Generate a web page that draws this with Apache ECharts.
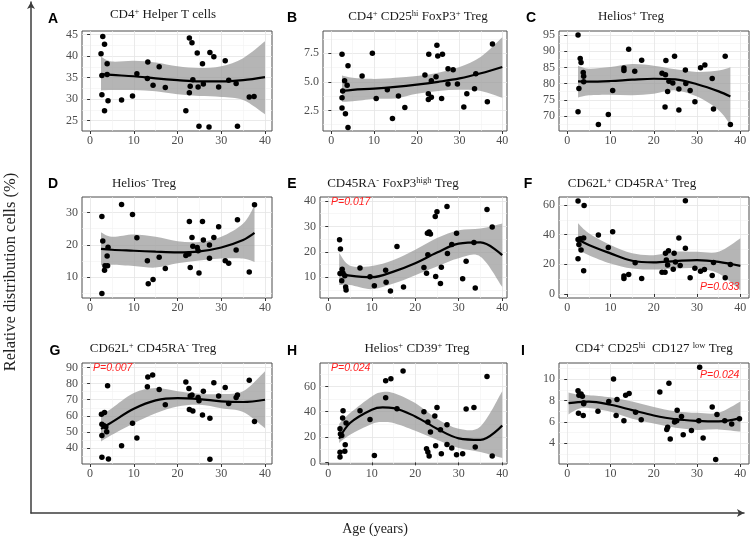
<!DOCTYPE html>
<html>
<head>
<meta charset="utf-8">
<script src="https://cdn.jsdelivr.net/npm/echarts@6/dist/echarts.min.js"></script>
<style>
html, body { margin: 0; padding: 0; background: #fff; }
#chart { width: 751px; height: 547px; }
</style>
</head>
<body>
<div id="chart"></div>
<script>
// ---- data (age in years, % of cells) ----
var ageTicks = [0, 10, 20, 30, 40];

var ageA = [2.9,3.3,2.5,3.9,2.7,3.9,2.7,4.1,3.3,7.2,9.7,10.7,13.2,13.1,14.4,15.8,17.2,22.7,23.3,24.5,25.7,22.7,22.9,23.5,24.7,25.9,21.9,24.9,27.4,28.3,27.2,29.4,30.9,31.7,33.4,33.7,36.4,37.5];
var pctA = [44.5,42.7,40.5,38.2,35.5,35.7,31.0,29.6,27.3,29.8,30.7,35.9,38.6,34.8,33.2,37.5,32.7,44.2,43.1,40.7,38.2,31.5,33.0,34.5,32.8,33.5,27.3,23.7,40.8,39.8,23.5,32.8,38.9,34.4,33.6,23.7,30.5,30.6];
var fitAgeA = [2.5,5,10,15,20,25,30,35,40];
var fitA = [35.8,35.6,35.3,34.8,34.4,34.1,34.1,34.4,35.1];
var loA = [32.0,32.1,32.1,31.8,31.1,30.7,30.5,29.8,26.5];
var hiA = [39.8,38.7,38.9,38.5,37.6,37.2,37.6,39.5,43.4];
var ticksA = [25, 30, 35, 40, 45];

var ageB = [2.5,3.1,2.65,2.5,2.5,3.3,3.7,3.9,3.9,7.2,9.6,10.5,13.1,14.3,15.7,17.2,21.9,22.8,22.7,22.7,23.4,23.4,24.5,24.7,24.9,26.0,25.8,27.3,27.3,28.5,29.5,31.0,31.7,33.5,33.8,36.5,37.7];
var pctB = [7.4,5.1,4.2,3.6,2.7,2.2,4.7,6.4,1.0,5.5,7.5,3.55,4.3,1.8,3.75,2.75,5.6,7.4,3.95,3.45,3.65,5.1,5.45,8.2,7.25,7.4,3.55,6.15,4.8,6.05,4.8,2.8,3.95,4.4,5.7,3.25,8.3];
var fitAgeB = [2.5,5,10,15,20,25,30,35,40];
var fitB = [4.2,4.3,4.4,4.55,4.75,5.0,5.3,5.75,6.3];
var loB = [3.25,3.3,3.5,3.55,3.95,4.2,4.3,4.2,3.6];
var hiB = [5.55,5.35,5.25,5.35,5.5,5.8,6.3,7.2,8.9];
var ticksB = [2.5, 5, 7.5];

var ageC = [2.5,3.0,3.2,3.7,3.8,3.8,2.7,2.5,7.2,9.5,10.5,13.1,13.1,14.2,15.6,17.2,21.9,22.7,22.8,22.6,23.2,23.5,24.4,24.8,25.8,25.8,27.3,27.4,28.4,29.5,30.8,31.8,33.5,33.8,36.5,37.7];
var pctC = [95.0,87.7,86.5,83.4,82.3,80.6,78.5,71.3,67.4,70.5,77.9,84.8,84.0,90.6,83.8,87.2,83.2,82.7,87.1,72.8,77.6,80.7,80.2,88.4,78.3,71.9,84.2,80.0,77.9,74.4,84.9,85.7,81.6,72.2,88.4,67.4];
var fitAgeC = [2.5,5,10,15,20,25,30,35,37.7];
var fitC = [80.7,80.6,80.8,81.2,81.5,81.3,79.8,77.6,76.0];
var loC = [75.7,76.4,76.6,76.4,76.9,77.9,76.0,71.8,67.3];
var hiC = [85.5,84.6,85.1,86.0,85.5,84.4,83.6,84.0,85.0];
var ticksC = [70, 75, 80, 85, 90, 95];

var ageD = [2.7,2.9,4.1,3.9,3.4,4.0,3.3,2.7,7.2,9.7,10.7,13.1,13.3,14.4,15.8,17.2,21.9,22.6,22.7,22.9,23.3,23.5,24.5,24.7,24.9,25.7,25.9,27.3,27.3,28.3,29.4,30.9,31.7,33.4,33.7,36.4,37.6];
var pctD = [28.8,21.2,19.3,16.6,13.6,13.6,12.2,5.0,32.5,29.4,22.2,15.1,8.0,9.3,16.2,12.7,16.7,17.2,27.2,13.0,22.3,19.6,19.2,18.2,11.3,27.2,21.5,20.0,15.9,22.3,25.6,15.1,14.3,18.4,27.8,11.6,32.4];
var fitAgeD = [2.5,5,10,15,20,25,30,35,37.6];
var fitD = [18.8,18.5,18.2,17.9,17.7,18.0,19.2,21.5,23.7];
var loD = [13.7,13.9,13.5,13.0,14.3,15.2,15.8,15.8,14.7];
var hiD = [23.9,22.5,23.2,22.5,21.1,20.9,22.5,26.6,32.2];
var ticksD = [10, 20, 30];

var ageE = [2.6,2.8,2.7,3.2,3.4,3.8,3.1,4.0,4.1,7.3,9.6,10.6,13.2,13.3,14.3,15.8,17.3,22.0,22.6,22.8,23.2,23.5,22.9,24.6,25.0,24.7,26.0,25.8,27.3,27.4,28.4,29.5,30.9,31.7,33.5,33.8,36.5,37.7];
var pctE = [24.8,21.1,11.5,13.1,11.6,10.6,8.6,6.1,5.0,13.6,10.2,6.6,12.7,8.0,4.6,22.1,6.1,13.8,11.6,27.3,27.8,27.0,18.8,33.9,35.8,10.3,13.9,7.5,37.9,19.3,22.9,27.3,9.4,16.3,23.7,5.7,36.7,29.8];
var fitAgeE = [2.5,5,10,15,20,25,30,35,40];
var fitE = [11.5,10.6,10.0,12.2,15.5,19.7,23.2,23.7,18.7];
var loE = [6.9,6.9,5.3,7.5,10.8,14.2,17.5,18.1,6.2];
var hiE = [19.5,14.5,14.4,16.8,20.8,25.4,28.5,29.2,31.2];
var ticksE = [10, 20, 30, 40];

var ageF = [2.5,3.9,2.5,3.0,3.8,2.7,3.2,2.5,3.8,7.2,9.5,10.5,13.1,13.1,14.2,15.7,17.2,21.9,22.6,22.7,22.9,23.4,23.2,24.5,24.7,25.0,25.8,26.1,27.3,27.3,28.4,29.5,30.8,31.7,33.5,33.8,36.5,37.7];
var pctF = [62.7,59.7,36.7,37.3,37.8,33.3,29.6,23.8,15.6,39.8,31.4,41.9,12.2,10.4,13.1,21.0,10.4,14.7,14.7,27.4,22.9,29.2,19.5,16.7,27.4,21.5,37.8,19.2,62.9,30.8,10.9,17.4,15.4,16.5,12.4,21.3,10.9,19.9];
var fitAgeF = [2.5,5,10,15,20,25,30,35,40];
var fitF = [36.9,33.0,27.4,22.4,21.3,22.2,22.9,21.7,19.0];
var loF = [29.6,26.2,20.6,17.2,16.5,17.2,17.2,13.8,2.5];
var hiF = [47.7,41.0,33.0,27.4,26.2,28.5,28.5,28.5,37.6];
var ticksF = [0, 20, 40, 60];

var ageG = [2.6,3.3,2.7,3.2,3.6,2.7,3.8,4.0,2.7,4.2,7.2,9.7,10.7,13.1,13.2,14.3,15.8,17.2,21.9,22.6,22.7,22.9,23.3,23.5,24.7,24.9,25.9,25.7,27.4,27.4,28.3,29.4,30.9,31.7,33.4,33.7,36.4,37.6];
var pctG = [61.1,62.1,54.9,53.9,53.1,47.9,50.2,78.7,34.5,33.4,41.5,55.5,46.4,78.1,84.0,85.3,76.4,66.9,81.0,77.0,64.0,72.3,72.9,63.0,71.4,69.4,75.2,60.5,58.6,33.2,80.5,72.3,77.6,67.7,71.4,72.9,82.0,56.6];
var fitAgeG = [2.5,5,10,15,20,25,30,35,40];
var fitG = [52.0,56.2,64.4,69.6,71.0,70.4,69.0,68.6,70.0];
var loG = [44.2,48.3,55.5,61.7,65.9,66.9,64.8,62.4,52.4];
var hiG = [60.7,64.8,74.1,77.2,75.2,73.7,73.5,75.2,87.6];
var ticksG = [40, 50, 60, 70, 80, 90];

var ageH = [2.7,2.8,3.1,2.7,2.7,3.4,3.3,4.1,3.9,3.8,7.3,9.6,10.6,13.2,14.4,13.2,15.8,17.2,22.0,22.9,22.6,22.9,23.2,23.5,24.5,25.0,24.7,25.8,26.0,27.3,27.3,28.4,29.5,30.9,31.7,33.5,33.8,36.5,37.7];
var pctH = [26.6,22.4,21.3,7.9,4.2,40.8,35.0,31.1,13.9,8.7,40.8,33.9,5.5,64.5,66.1,51.1,42.4,72.1,40.0,31.8,10.8,8.2,5.0,23.9,36.6,43.4,13.2,25.8,6.8,29.7,14.2,11.3,6.1,6.8,42.1,43.4,12.1,67.9,5.0];
var fitAgeH = [2.5,5,10,12.5,15,20,25,30,35,40];
var fitH = [18.7,31.1,41.6,43.4,42.9,36.3,26.6,19.0,17.8,29.2];
var loH = [15.3,21.8,30.3,31.8,31.1,25.0,17.9,11.3,8.2,3.4];
var hiH = [30.3,38.9,52.1,55.5,54.7,46.8,34.5,26.6,28.4,56.1];
var ticksH = [0, 20, 40, 60];

var ageI = [2.5,2.7,3.2,3.5,3.8,3.8,2.6,3.7,7.1,9.6,10.7,11.5,11.3,13.1,13.5,14.3,15.8,17.1,21.4,23.0,23.2,23.5,23.8,24.8,25.4,25.3,26.4,26.8,28.7,30.4,30.6,31.4,33.5,34.3,34.6,36.4,38.0,39.8];
var pctI = [8.9,8.5,8.6,8.4,7.8,7.7,6.8,6.6,7.0,7.9,10.0,8.1,6.6,6.1,8.5,8.65,6.9,6.2,8.8,5.3,5.5,9.6,4.4,6.0,7.1,6.1,6.5,4.8,5.2,6.1,11.1,4.5,7.4,2.5,6.7,6.1,5.8,6.3];
var fitAgeI = [0.3,2.5,5,10,15,20,25,30,35,40];
var fitI = [7.75,7.85,7.9,7.6,7.1,6.6,6.25,6.1,6.05,6.35];
var loI = [6.7,7.2,7.3,6.95,6.3,5.85,5.45,5.25,5.3,5.1];
var hiI = [8.75,8.55,8.5,8.3,7.9,7.4,7.0,6.85,6.85,7.9];
var ticksI = [4, 6, 8, 10];

var SERIF = '"Liberation Serif", "Times New Roman", serif';
var SANS = '"Liberation Sans", Arial, sans-serif';

// panel layout: box = [left, top, width, height]
var panels = [
    {letter: 'A', title: '{n|CD4}{s|+}{n| Helper T cells}', age: ageA, pct: pctA, fitAge: fitAgeA, fit: fitA, lo: loA, hi: hiA, ticks: ticksA,
     x: [-1.85, 41.6], y: [22.6, 45.8], step: 5, dec: 0, box: [82, 31, 190, 100], L: [53, 19], T: [163, 15]},
    {letter: 'B', title: '{n|CD4}{s|+}{n| CD25}{s|hi}{n| FoxP3}{s|+}{n| Treg}', age: ageB, pct: pctB, fitAge: fitAgeB, fit: fitB, lo: loB, hi: hiB, ticks: ticksB,
     x: [-1.95, 41.1], y: [0.7, 9.44], step: 2.5, dec: 1, box: [323, 31, 184, 100], L: [292, 18], T: [418, 17]},
    {letter: 'C', title: '{n|Helios}{s|+}{n| Treg}', age: ageC, pct: pctC, fitAge: fitAgeC, fit: fitC, lo: loC, hi: hiC, ticks: ticksC,
     x: [-1.9, 42.0], y: [65.4, 96.2], step: 5, dec: 0, box: [559, 31, 190, 100], L: [531, 18], T: [631, 17]},
    {letter: 'D', title: '{n|Helios}{s|-}{n| Treg}', age: ageD, pct: pctD, fitAge: fitAgeD, fit: fitD, lo: loD, hi: hiD, ticks: ticksD,
     x: [-1.85, 41.6], y: [3.6, 34.8], step: 10, dec: 0, box: [82, 197, 190, 101], L: [53, 184], T: [144, 184]},
    {letter: 'E', title: '{n|CD45RA}{s|-}{n| FoxP3}{s|high}{n| Treg}', age: ageE, pct: pctE, fitAge: fitAgeE, fit: fitE, lo: loE, hi: hiE, ticks: ticksE,
     x: [-1.9, 41.1], y: [1.8, 41.6], step: 10, dec: 0, box: [320, 197, 187, 101], L: [292, 184], T: [393, 184],
     p: 'P=0.017', P: [331, 202]},
    {letter: 'F', title: '{n|CD62L}{s|+}{n| CD45RA}{s|+}{n| Treg}', age: ageF, pct: pctF, fitAge: fitAgeF, fit: fitF, lo: loF, hi: hiF, ticks: ticksF,
     x: [-1.9, 42.0], y: [-2.7, 65.4], step: 20, dec: 0, box: [559, 197, 190, 101], L: [528, 184], T: [632, 184],
     p: 'P=0.033', P: [700, 287]},
    {letter: 'G', title: '{n|CD62L}{s|+}{n| CD45RA}{s|-}{n| Treg}', age: ageG, pct: pctG, fitAge: fitAgeG, fit: fitG, lo: loG, hi: hiG, ticks: ticksG,
     x: [-1.85, 41.6], y: [30.3, 92.7], step: 10, dec: 0, box: [82, 363, 190, 101], L: [55, 351], T: [153, 349],
     p: 'P=0.007', P: [93, 368]},
    {letter: 'H', title: '{n|Helios}{s|+}{n| CD39}{s|+}{n| Treg}', age: ageH, pct: pctH, fitAge: fitAgeH, fit: fitH, lo: loH, hi: hiH, ticks: ticksH,
     x: [-1.9, 41.1], y: [-1.3, 78.5], step: 20, dec: 0, box: [320, 363, 187, 101], L: [292, 351], T: [417, 349],
     p: 'P=0.024', P: [331, 368]},
    {letter: 'I', title: '{n|CD4}{s|+}{n| CD25}{s|hi}{n|  CD127 }{s|low}{n| Treg}', age: ageI, pct: pctI, fitAge: fitAgeI, fit: fitI, lo: loI, hi: hiI, ticks: ticksI,
     x: [-1.9, 42.0], y: [2.07, 11.5], step: 2, dec: 0, box: [559, 363, 190, 101], L: [523, 351], T: [654, 349],
     p: 'P=0.024', P: [700, 375]}
];

function zip(a, b) {
    return a.map(function (v, k) { return [v, b[k]]; });
}

// catmull-rom through pixel points -> cubic bezier path commands
function curve(pts) {
    var d = '';
    for (var i = 0; i < pts.length - 1; i++) {
        var a = pts[i - 1] || pts[i], b = pts[i], c = pts[i + 1], e = pts[i + 2] || c;
        d += 'C' + [b[0] + (c[0] - a[0]) / 6, b[1] + (c[1] - a[1]) / 6,
                    c[0] - (e[0] - b[0]) / 6, c[1] - (e[1] - b[1]) / 6, c[0], c[1]].join(',');
    }
    return d;
}

// confidence band of the smoother, mapped with the panel's own axes
function bandRenderer(p) {
    return function (params, api) {
        if (params.dataIndex !== 0) return;
        var top = p.fitAge.map(function (x, k) { return api.coord([x, p.hi[k]]); });
        var bot = p.fitAge.map(function (x, k) { return api.coord([x, p.lo[k]]); }).reverse();
        return {
            type: 'path',
            shape: {pathData: 'M' + top[0] + curve(top) + 'L' + bot[0] + curve(bot) + 'Z'},
            style: {fill: 'rgba(150,150,150,0.7)'}
        };
    };
}

function axis(i, ext, step, ticks, dec) {
    return {
        gridIndex: i, type: 'value', min: ext[0], max: ext[1],
        minInterval: step, maxInterval: step,
        axisLine: {show: false},
        axisTick: {show: true, length: 3, customValues: ticks, lineStyle: {color: '#333', width: 1}},
        axisLabel: {
            margin: 4, color: '#4d4d4d', fontFamily: SERIF, fontSize: 12, hideOverlap: false,
            customValues: ticks,
            formatter: function (v) { return v.toFixed(dec); }
        },
        splitLine: {show: true, lineStyle: {color: '#e4e4e4', width: 0.8}},
        minorTick: {show: false, splitNumber: 2},
        minorSplitLine: {show: true, lineStyle: {color: '#f2f2f2', width: 0.6}}
    };
}

var RICH = {
    n: {fontFamily: SERIF, fontSize: 13, fill: '#1a1a1a', lineHeight: 16},
    s: {fontFamily: SERIF, fontSize: 8.5, fill: '#1a1a1a', lineHeight: 9, verticalAlign: 'top'}
};

var grid = [], xAxis = [], yAxis = [], series = [], graphic = [];

panels.forEach(function (p, i) {
    grid.push({left: p.box[0], top: p.box[1], width: p.box[2], height: p.box[3],
        show: true, backgroundColor: '#fff', borderColor: '#4d4d4d', borderWidth: 1});
    xAxis.push(axis(i, p.x, 10, ageTicks, 0));
    yAxis.push(axis(i, p.y, p.step, p.ticks, p.dec));

    series.push({type: 'custom', xAxisIndex: i, yAxisIndex: i, z: 1, silent: true,
        data: [[p.fitAge[0], p.fit[0]]], renderItem: bandRenderer(p)});
    series.push({type: 'line', xAxisIndex: i, yAxisIndex: i, z: 2, silent: true,
        smooth: 0.35, symbol: 'none', lineStyle: {color: '#000', width: 2.2},
        data: zip(p.fitAge, p.fit)});
    series.push({type: 'scatter', xAxisIndex: i, yAxisIndex: i, z: 3,
        symbolSize: 5.5, itemStyle: {color: '#000', opacity: 1},
        data: zip(p.age, p.pct)});

    graphic.push({type: 'text', x: p.L[0], y: p.L[1], z: 10,
        style: {text: p.letter, font: 'bold 14px ' + SANS, fill: '#000', align: 'center', verticalAlign: 'middle'}});
    graphic.push({type: 'text', x: p.T[0], y: p.T[1], z: 10,
        style: {text: p.title, rich: RICH, font: '13px ' + SERIF, fill: '#1a1a1a', align: 'center', verticalAlign: 'middle'}});
    if (p.p) {
        graphic.push({type: 'text', x: p.P[0], y: p.P[1], z: 10,
            style: {text: p.p, font: 'italic 10.5px ' + SANS, fill: '#ff1f1f', align: 'left', verticalAlign: 'middle'}});
    }
});

// outer frame: shared arrows for age and % axes
grid.push({left: 31, top: 2, width: 713, height: 511, show: false});
xAxis.push({gridIndex: 9, type: 'value', min: 0, max: 1,
    axisLine: {show: true, symbol: ['none', 'arrow'], symbolSize: [6, 7], lineStyle: {color: '#3c3c3c', width: 1.5}},
    axisTick: {show: false}, axisLabel: {show: false}, splitLine: {show: false}});
yAxis.push({gridIndex: 9, type: 'value', min: 0, max: 1,
    axisLine: {show: true, symbol: ['none', 'arrow'], symbolSize: [6, 7], lineStyle: {color: '#3c3c3c', width: 1.5}},
    axisTick: {show: false}, axisLabel: {show: false}, splitLine: {show: false}});

graphic.push({type: 'text', x: 375, y: 529,
    style: {text: 'Age (years)', font: '14px ' + SERIF, fill: '#222', align: 'center', verticalAlign: 'middle'}});
graphic.push({type: 'text', x: 11, y: 272, rotation: Math.PI / 2,
    style: {text: 'Relative distribution cells (%)', font: '16.5px ' + SERIF, fill: '#222', align: 'center', verticalAlign: 'middle'}});

var chart = echarts.init(document.getElementById('chart'), null, {renderer: 'canvas'});
chart.setOption({
    animation: false,
    backgroundColor: '#fff',
    grid: grid,
    xAxis: xAxis,
    yAxis: yAxis,
    series: series,
    graphic: graphic
});
</script>
</body>
</html>
